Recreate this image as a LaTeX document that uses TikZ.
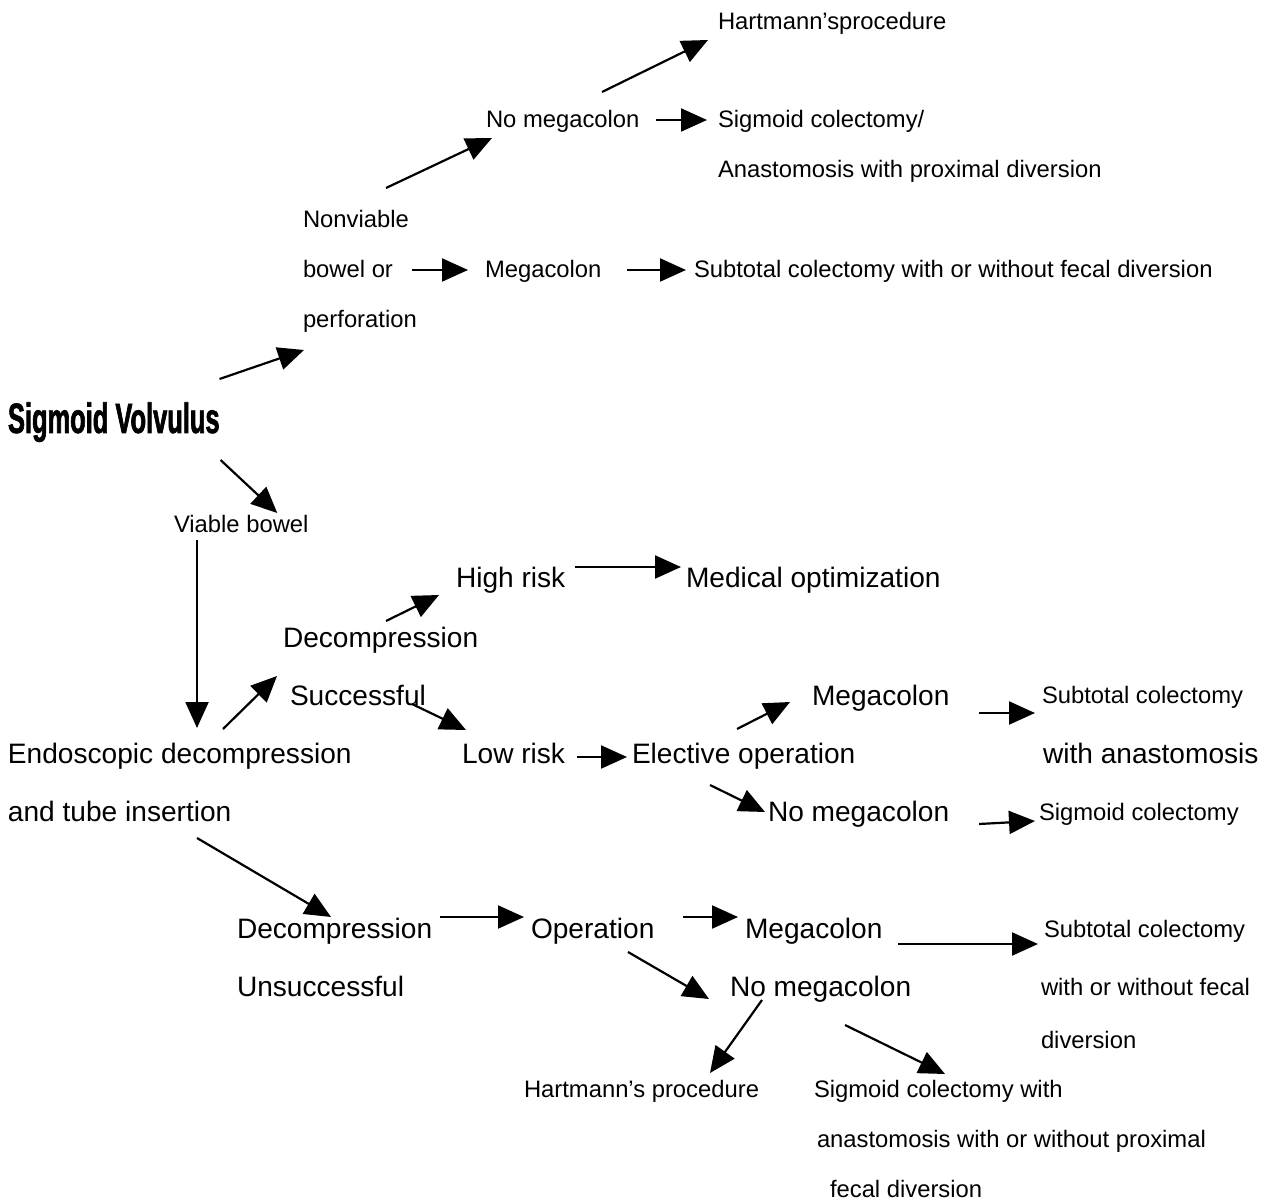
\documentclass[tikz,border=0pt]{standalone}
\usepackage{fontspec}
\setmainfont{Liberation Sans}
\newfontfamily\titlefont[FakeStretch=0.6,FakeBold=1.5]{Liberation Sans}
\usepackage{tikz}
\usetikzlibrary{arrows.meta,calc}

\begin{document}
\begin{tikzpicture}[x=0.5pt,y=-0.5pt,
  every node/.style={inner sep=0pt,outer sep=0pt,anchor=base west},
  txt/.style={font=\fontsize{11.9}{14}\selectfont},
  bigtxt/.style={font=\fontsize{14.05}{17}\selectfont},
  arr/.style={-{Triangle[length=13pt,width=11.5pt]},line width=1.1pt}]

  \path[fill=white,use as bounding box] (0,0) rectangle (1264,1203);

  \node(T) at (8,433) {\fontsize{21.2}{24}\selectfont\titlefont\bfseries Sigmoid Volvulus};

  % Nonviable bowel
  \node[txt](hartA)  at (718,30)  {Hartmann’sprocedure};
  \node[txt](nomegA) at (486,128) {No megacolon};
  \node[txt](sigA)   at (718,128) {Sigmoid colectomy/};
  \node[txt](anaA)   at (718,178) {Anastomosis with proximal diversion};
  \node[txt](nonv)   at (303,228) {Nonviable};
  \node[txt](bowor)  at (303,278) {bowel or};
  \node[txt](perf)   at (303,328) {perforation};
  \node[txt](megaA)  at (485,278) {Megacolon};
  \node[txt](subA)   at (694,278) {Subtotal colectomy with or without fecal diversion};

  % Viable bowel
  \node[txt](viable)    at (174,532) {Viable bowel};
  \node[bigtxt](high)   at (456,588) {High risk};
  \node[bigtxt](medopt) at (686,588) {Medical optimization};
  \node[bigtxt](decS)   at (283,647) {Decompression};
  \node[bigtxt](succ)   at (290,705) {Successful};
  \node[bigtxt](megaB)  at (812,705) {Megacolon};
  \node[txt](subB)      at (1042,703) {Subtotal colectomy};
  \node[bigtxt](endo)   at (8,763)   {Endoscopic decompression};
  \node[bigtxt](low)    at (462,763) {Low risk};
  \node[bigtxt](elect)  at (632,763) {Elective operation};
  \node[bigtxt](withA)  at (1043,763) {with anastomosis};
  \node[bigtxt](tube)   at (8,821)   {and tube insertion};
  \node[bigtxt](nomegB) at (768,821) {No megacolon};
  \node[txt](sigB)      at (1039,820) {Sigmoid colectomy};

  % unsuccessful decompression
  \node[bigtxt](decU)   at (237,938) {Decompression};
  \node[bigtxt](oper)   at (531,938) {Operation};
  \node[bigtxt](megaC)  at (745,938) {Megacolon};
  \node[txt](subC)      at (1044,937) {Subtotal colectomy};
  \node[bigtxt](unsucc) at (237,996) {Unsuccessful};
  \node[bigtxt](nomegC) at (730,996) {No megacolon};
  \node[txt](withor)    at (1041,995) {with or without fecal};
  \node[txt](divers)    at (1041,1048) {diversion};
  \node[txt](hartB)     at (524,1097) {Hartmann’s procedure};
  \node[txt](sigC)      at (814,1097) {Sigmoid colectomy with};
  \node[txt](anaC)      at (817,1147) {anastomosis with or without proximal};
  \node[txt](fecal)     at (830,1197) {fecal diversion};

  \draw[arr] ([shift={(0,-54)}]T.base east) -- ([shift={(1,22)}]perf.base west);
  \draw[arr] ([shift={(1,27)}]T.base east) -- ([shift={(36,-19)}]viable.base);

  \draw[arr] ([shift={(83,-40)}]nonv.base west) -- ([shift={(6,10)}]nomegA.base west);
  \draw[arr] ([shift={(116,-36)}]nomegA.base west) -- ([shift={(-10,10)}]hartA.base west);
  \draw[arr] ([shift={(17,-8)}]nomegA.base east) -- ([shift={(-11,-8)}]sigA.base west);
  \draw[arr] ([shift={(19,-8)}]bowor.base east) -- ([shift={(-17,-8)}]megaA.base west);
  \draw[arr] ([shift={(26,-8)}]megaA.base east) -- ([shift={(-8,-8)}]subA.base west);

  \draw[arr] ([shift={(23,8)}]viable.base west) -- ([shift={(189,-35)}]endo.base west);
  \draw[arr] ([shift={(215,-34)}]endo.base west) -- ([shift={(-13,-29)}]succ.base west);
  \draw[arr] ([shift={(103,-26)}]decS.base west) -- ([shift={(-17,7)}]high.base west);
  \draw[arr] ([shift={(122,-1)}]succ.base west) -- ([shift={(4,-33)}]low.base west);
  \draw[arr] ([shift={(10,-21)}]high.base east) -- ([shift={(-5,-21)}]medopt.base west);
  \draw[arr] ([shift={(12,-6)}]low.base east) -- ([shift={(-5,-6)}]elect.base west);
  \draw[arr] ([shift={(105,-34)}]elect.base west) -- ([shift={(-22,-3)}]megaB.base west);
  \draw[arr] ([shift={(78,22)}]elect.base west) -- ([shift={(-3,-9)}]nomegB.base west);
  \draw[arr] ([shift={(30,8)}]megaB.base east) -- ([shift={(-7,10)}]subB.base west);
  \draw[arr] ([shift={(30,3)}]nomegB.base east) -- ([shift={(-4,1)}]sigB.base west);

  \draw[arr] ([shift={(189,17)}]tube.base west) -- ([shift={(94,-21)}]decU.base west);
  \draw[arr] ([shift={(8,-21)}]decU.base east) -- ([shift={(-7,-21)}]oper.base west);
  \draw[arr] ([shift={(29,-21)}]oper.base east) -- ([shift={(-7,-21)}]megaC.base west);
  \draw[arr] ([shift={(97,14)}]oper.base west) -- ([shift={(-21,3)}]nomegC.base west);
  \draw[arr] ([shift={(16,6)}]megaC.base east) -- ([shift={(-6,7)}]subC.base west);
  \draw[arr] ([shift={(32,4)}]nomegC.base west) -- ([shift={(186,-24)}]hartB.base west);
  \draw[arr] ([shift={(115,29)}]nomegC.base west) -- ([shift={(131,-23)}]sigC.base west);
\end{tikzpicture}
\end{document}
